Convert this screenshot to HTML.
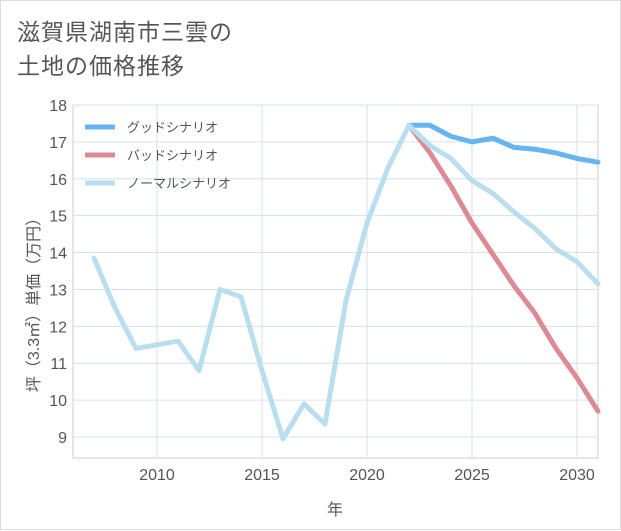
<!DOCTYPE html>
<html><head><meta charset="utf-8"><style>
body{margin:0;background:#fff;font-family:"Liberation Sans","Noto Sans CJK JP",sans-serif}
#wrap{position:relative;width:619px;height:528px;border:1px solid #ddd;background:#fff}
.title{position:absolute;left:16px;top:14px;font-size:23px;line-height:34px;color:#555;letter-spacing:1px}
</style></head><body>
<div id="wrap">
<div class="title">滋賀県湖南市三雲の<br>土地の価格推移</div>
<svg id="c" width="621" height="530" style="position:absolute;left:0;top:0"></svg>
</div>
<script>
const years=[2007,2008,2009,2010,2011,2012,2013,2014,2015,2016,2017,2018,2019,2020,2021,2022,2023,2024,2025,2026,2027,2028,2029,2030,2031];
const normal=[13.85,12.5,11.4,11.5,11.6,10.8,13.0,12.8,10.8,8.95,9.9,9.35,12.7,14.8,16.3,17.45,16.9,16.55,15.95,15.6,15.1,14.65,14.1,13.75,13.15];
const futureYears=[2022,2023,2024,2025,2026,2027,2028,2029,2030,2031];
const good=[17.45,17.45,17.15,17.0,17.1,16.85,16.8,16.7,16.55,16.45];
const bad=[17.45,16.7,15.8,14.8,13.95,13.1,12.35,11.4,10.6,9.7];
const xTicks=[2010,2015,2020,2025,2030];
const yTicks=[9,10,11,12,13,14,15,16,17,18];
const NS='http://www.w3.org/2000/svg';
const svg=document.getElementById('c');
const L=72,R=597,T=104,B=457;
const x=v=>L+(v-2006)*(R-L)/25;
const y=v=>436+(9-v)*(436-104)/9;
function mk(tag,attrs,parent){const e=document.createElementNS(NS,tag);for(const k in attrs)e.setAttribute(k,attrs[k]);(parent||svg).appendChild(e);return e;}
const bg=mk('rect',{x:L,y:T,width:R-L,height:B-T,fill:'#fff',stroke:'#ccc'});


xTicks.forEach(v=>{
 const g=mk('line',{x1:x(v),x2:x(v),y1:T,y2:B,stroke:'#d6e0ea'});
 
 
 const t=mk('text',{x:x(v),y:B+22,'text-anchor':'middle','font-size':16,fill:'#555'});t.textContent=v;
 
 
});
yTicks.forEach(v=>{
 const g=mk('line',{x1:L,x2:R,y1:y(v),y2:y(v),stroke:'#d6e0ea'});
 
 
 const t=mk('text',{x:L-6,y:y(v)+6,'text-anchor':'end','font-size':16,fill:'#555'});t.textContent=v;
 
 
});
const xt=mk('text',{x:334,y:514,'text-anchor':'middle','font-size':16,fill:'#555'});xt.textContent='年';


const yt=mk('text',{x:0,y:0,'text-anchor':'middle','font-size':16,fill:'#555',transform:'translate(38,300) rotate(-90)'});yt.textContent='坪（3.3㎡）単価（万円）';


function line(xs,vs,color,name){
 const p=mk('polyline',{points:xs.map((v,i)=>x(v)+','+y(vs[i])).join(' '),fill:'none',stroke:color,'stroke-width':5,'stroke-linejoin':'round','stroke-linecap':'round'});
 
 
}
line(futureYears,bad,'#dc8a93','bad-scenario-line');
line(futureYears,good,'#64b5f0','good-scenario-line');
line(years,normal,'#b9def0','normal-scenario-line');
[['グッドシナリオ','#64b5f0'],['バッドシナリオ','#dc8a93'],['ノーマルシナリオ','#b9def0']].forEach((d,i)=>{
 const yy=126+i*28;
 const l=mk('line',{x1:84,x2:114,y1:yy,y2:yy,stroke:d[1],'stroke-width':5});
 
 
 const t=mk('text',{x:126,y:yy+5,'font-size':13,fill:'#555'});t.textContent=d[0];
 
 
});
</script>
</body></html>
